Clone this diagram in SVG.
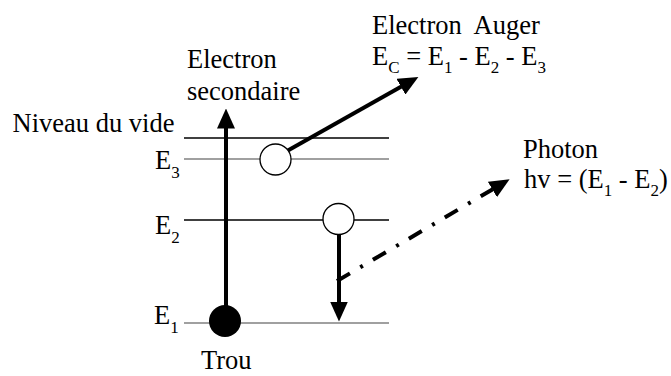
<svg xmlns="http://www.w3.org/2000/svg" width="671" height="376" viewBox="0 0 671 376">
<style>
text{font-family:"Liberation Serif","Times New Roman",serif;font-size:26.5px;fill:#000}
.sub{font-size:17px}
.lvl{stroke-width:1.3;fill:none}
.blk{stroke:#000}
.gry{stroke:#808080}
.arr{stroke:#000;stroke-width:4;fill:none}
.dd{stroke-dasharray:15 12 3 11.7}
</style>
<defs>
<marker id="ah" viewBox="0 0 20 18" refX="0.5" refY="9" markerWidth="20" markerHeight="18" markerUnits="userSpaceOnUse" orient="auto">
<path d="M0,0 L20,9 L0,18 z" fill="#000"/>
</marker>
</defs>
<rect width="671" height="376" fill="#fff"/>
<g id="levels">
<line class="lvl blk" x1="184" y1="138" x2="389" y2="138"/>
<line class="lvl gry" x1="184" y1="159" x2="389" y2="159"/>
<line class="lvl blk" x1="184" y1="220" x2="389" y2="220"/>
<line class="lvl gry" x1="184" y1="323" x2="389" y2="323"/>
</g>
<g id="connectors">
<line class="arr" x1="226" y1="310" x2="226" y2="128" marker-end="url(#ah)"/>
<line class="arr" x1="287" y1="151" x2="401.4" y2="86.5" marker-end="url(#ah)"/>
<line class="arr" x1="339" y1="234" x2="339" y2="302" marker-end="url(#ah)"/>
<line class="arr dd" x1="337" y1="281" x2="492.8" y2="189.2" marker-end="url(#ah)"/>
</g>
<g id="electron-e3"><circle cx="275.5" cy="159.5" r="15.5" fill="#fff" stroke="#000" stroke-width="1.3"/></g>
<g id="electron-e2"><circle cx="338.5" cy="219" r="15.5" fill="#fff" stroke="#000" stroke-width="1.3"/></g>
<g id="trou-e1"><circle cx="225" cy="321" r="16" fill="#000"/></g>
<g id="labels">
<text x="12.5" y="132">Niveau du vide</text>
<text x="155" y="169">E<tspan class="sub" dy="9">3</tspan></text>
<text x="155" y="234">E<tspan class="sub" dy="9">2</tspan></text>
<text x="154" y="324">E<tspan class="sub" dy="9">1</tspan></text>
<text x="201" y="369">Trou</text>
</g>
<g id="label-secondaire">
<text x="187" y="68">Electron</text>
<text x="187" y="100">secondaire</text>
</g>
<g id="label-auger">
<text x="372" y="34" xml:space="preserve">Electron  Auger</text>
<text x="372" y="65">E<tspan class="sub" dy="8">C</tspan><tspan dy="-8"> = E</tspan><tspan class="sub" dy="8">1</tspan><tspan dy="-8"> - E</tspan><tspan class="sub" dy="8">2</tspan><tspan dy="-8"> - E</tspan><tspan class="sub" dy="8">3</tspan></text>
</g>
<g id="label-photon">
<text x="523" y="158">Photon</text>
<text x="524" y="188">hv = (E<tspan class="sub" dy="8">1</tspan><tspan dy="-8"> - E</tspan><tspan class="sub" dy="8">2</tspan><tspan dy="-8">)</tspan></text>
</g>
</svg>
